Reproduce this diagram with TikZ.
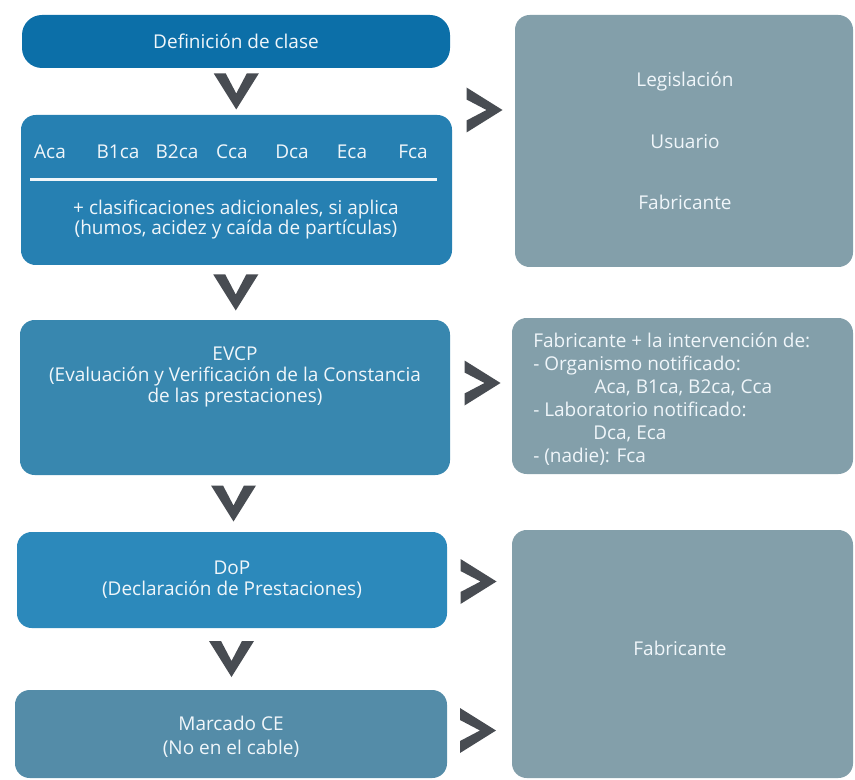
\documentclass[tikz,border=0pt]{standalone}
\usepackage{fontspec}
\setmainfont{Open Sans}
\usepackage{tikz}
\usetikzlibrary{calc}

\begin{document}
\begin{tikzpicture}[x=0.75pt,y=0.75pt,yscale=-1,xscale=1,
  boxtext/.style={text={rgb, 255:red, 240; green, 246; blue, 250 }, font=\fontsize{14.25}{16}\selectfont, align=center, inner sep=0pt},
  flowbox/.style={boxtext, rounded corners=11pt, minimum width=322.5pt},
  sidebox/.style={boxtext, rounded corners=11pt, minimum width=255.75pt, fill={rgb, 255:red, 131; green, 159; blue, 170 }},
  chevfill/.style={fill={rgb, 255:red, 72; green, 76; blue, 82 }},
  chevdown/.pic={\path [chevfill] (-22.5,18) -- (-10.5,18) -- (0,-2) -- (10.5,18) -- (22.5,18) -- (0,-18) -- cycle ;},
  chevright/.pic={\path [chevfill] (-18,-22.5) -- (-18,-10.5) -- (2,0) -- (-18,10.5) -- (-18,22.5) -- (18,0) -- cycle ;}
]
\useasboundingbox (0,0) rectangle (855,780);

%Shape: Rounded Rect [id:defclase]
\draw (236,41.5) node (defclase) [flowbox, minimum width=321pt, minimum height=39.75pt, rounded corners=15pt, fill={rgb, 255:red, 12; green, 111; blue, 168 }] {Definición de clase};
%Shape: Rounded Rect [id:clases]
\draw (236.5,190) node (clases) [flowbox, minimum width=323.25pt, minimum height=112.5pt, fill={rgb, 255:red, 38; green, 128; blue, 178 }] {};
%Shape: Rounded Rect [id:evcp]
\draw (235,397.5) node (evcp) [flowbox, minimum height=116.25pt, fill={rgb, 255:red, 56; green, 135; blue, 175 }] {};
%Shape: Rounded Rect [id:dop]
\draw (232,580) node (dop) [flowbox, minimum height=72pt, fill={rgb, 255:red, 44; green, 137; blue, 187 }] {};
%Shape: Rounded Rect [id:marcado]
\draw (231,734) node (marcado) [flowbox, minimum width=324pt, minimum height=66pt, fill={rgb, 255:red, 84; green, 140; blue, 168 }] {};

%Shape: Rounded Rect [id:legis]
\draw (684,141) node (legis) [sidebox, minimum width=253.5pt, minimum height=189pt] {};
%Shape: Rounded Rect [id:organ]
\draw (682.5,396) node (organ) [sidebox, minimum height=117pt] {};
%Shape: Rounded Rect [id:fabric]
\draw (682.5,654) node (fabric) [sidebox, minimum height=186pt] {};

%Straight Lines [id:clasesline]
\draw [color={rgb, 255:red, 240; green, 246; blue, 250 }, line width=2.25pt] (30,180) -- (437,180) ;

%Chevrons down
\pic at ($(defclase.south)!0.5!(clases.north)$) {chevdown};
\pic at ($(clases.south)!0.5!(evcp.north)$) {chevdown};
\pic at ($(evcp.south)!0.5!(dop.north)$) {chevdown};
\pic at ($(dop.south)!0.5!(marcado.north)$) {chevdown};
%Chevrons right
\pic at (484.5,110) {chevright};
\pic at (482.5,383) {chevright};
\pic at (478.5,581.5) {chevright};
\pic at (478,730.5) {chevright};

% Text Node
\draw (50,152) node (aca) [boxtext] {Aca};
% Text Node
\draw (118,152) node (bunca) [boxtext] {B1ca};
% Text Node
\draw (177,152) node (bdosca) [boxtext] {B2ca};
% Text Node
\draw (232,152) node (cca) [boxtext] {Cca};
% Text Node
\draw (292,152) node (dca) [boxtext] {Dca};
% Text Node
\draw (352,152) node (eca) [boxtext] {Eca};
% Text Node
\draw (413,152) node (fca) [boxtext] {Fca};
% Text Node
\draw (236,220) node (adic) [boxtext, font=\fontsize{14.25}{15}\selectfont] {+ clasificaciones adicionales, si aplica\\(humos, acidez y caída de partículas)};
% Text Node
\draw (235,377) node (evcptxt) [boxtext] {EVCP\\(Evaluación y Verificación de la Constancia\\de las prestaciones)};
% Text Node
\draw (232,580) node (doptxt) [boxtext] {DoP\\(Declaración de Prestaciones)};
% Text Node
\draw (231,737) node (marcadotxt) [boxtext, font=\fontsize{14.25}{18}\selectfont] {Marcado CE\\(No en el cable)};
% Text Node
\draw (685,82) node (legtxt) [boxtext] {Legislación};
% Text Node
\draw (685,142) node (usutxt) [boxtext] {Usuario};
% Text Node
\draw (685,202) node (fabtxt) [boxtext] {Fabricante};
% Text Node
\draw (533,333) node (organtxt) [boxtext, anchor=north west, align=left, font=\fontsize{14.25}{17.25}\selectfont] {Fabricante + la intervención de:\\- Organismo notificado:\\\hspace*{46pt}Aca, B1ca, B2ca, Cca\\- Laboratorio notificado:\\\hspace*{45pt}Dca, Eca\\- (nadie): Fca};
% Text Node
\draw (680,648) node (fabtxtb) [boxtext] {Fabricante};
\end{tikzpicture}
\end{document}
